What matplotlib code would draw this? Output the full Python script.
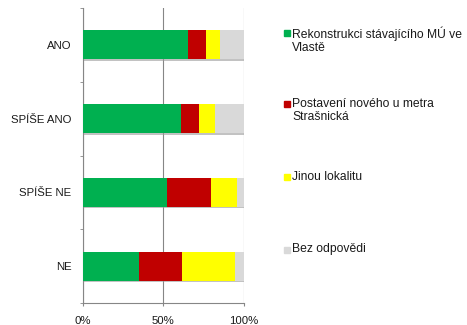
import numpy as np
import matplotlib
matplotlib.use('Agg')
import matplotlib.pyplot as plt
import matplotlib.patheffects as pe
from matplotlib.patches import Rectangle

# Answers (rows) and share of each preferred option in percent
answers = ['ANO', 'SPÍŠE ANO', 'SPÍŠE NE', 'NE']
options = ['Rekonstrukci stávajícího MÚ ve\nVlastě',
           'Postavení nového u metra\nStrašnická',
           'Jinou lokalitu',
           'Bez odpovědi']
rekonstrukce = [65.4, 61.0, 52.4, 35.0]
metro = [11.0, 11.0, 27.3, 26.7]
jinde = [8.9, 10.4, 16.1, 32.9]
bez_odpovedi = [14.7, 17.6, 4.2, 5.4]
colors = ['#00B050', '#C00000', '#FFFF00', '#D9D9D9']

plt.rcParams['font.family'] = ['Liberation Sans', 'DejaVu Sans']
plt.rcParams['font.size'] = 8.2
plt.rcParams['text.color'] = '#1a1a1a'
plt.rcParams['xtick.labelcolor'] = '#1a1a1a'
plt.rcParams['ytick.labelcolor'] = '#1a1a1a'

W, H = 467, 325
fig = plt.figure(figsize=(W / 100, H / 100), dpi=100)
ax = fig.add_axes([82.7 / W, 1 - 303 / H, 161 / W, 295 / H])

y = np.arange(len(answers))
left = np.zeros(len(answers))
shadow = [pe.SimplePatchShadow(offset=(1.2, -1.2), shadow_rgbFace='#9a9a9a', alpha=0.6), pe.Normal()]
for vals, col in zip([rekonstrukce, metro, jinde, bez_odpovedi], colors):
    ax.barh(y, vals, left=left, height=0.39, color=col, zorder=3, path_effects=shadow)
    left += np.array(vals)

ax.set_ylim(len(answers) - 0.5, -0.5)
ax.set_xlim(0, 100)

ax.set_xticks([0, 50, 100])
ax.set_xticklabels(['0%', '50%', '100%'])
ax.set_yticks(y)
ax.set_yticklabels(answers)
ax.set_yticks(np.arange(len(answers) + 1) - 0.5, minor=True)
ax.tick_params(axis='y', which='major', length=0, pad=8)
ax.tick_params(axis='y', which='minor', length=2.5, color='#868686')
ax.tick_params(axis='x', length=2.5, color='#868686', pad=6.5)

ax.grid(axis='x', color='#868686', linewidth=0.8, zorder=0)
for side in ['top', 'right']:
    ax.spines[side].set_visible(False)
for side in ['left', 'bottom']:
    ax.spines[side].set_color('#868686')
    ax.spines[side].set_linewidth(0.8)

# legend entries spaced along the right side
legend_y = [33, 104.5, 177, 249.5]
for lab, col, py in zip(options, colors, legend_y):
    fig.add_artist(Rectangle((284 / W, 1 - (py + 3) / H), 6 / W, 6 / H,
                             transform=fig.transFigure, color=col))
    fig.text(292 / W, 1 - (py - 6.5) / H, lab, va='top', ha='left',
             fontsize=8.7, linespacing=1.15)

fig.savefig('out.png', dpi=100)
